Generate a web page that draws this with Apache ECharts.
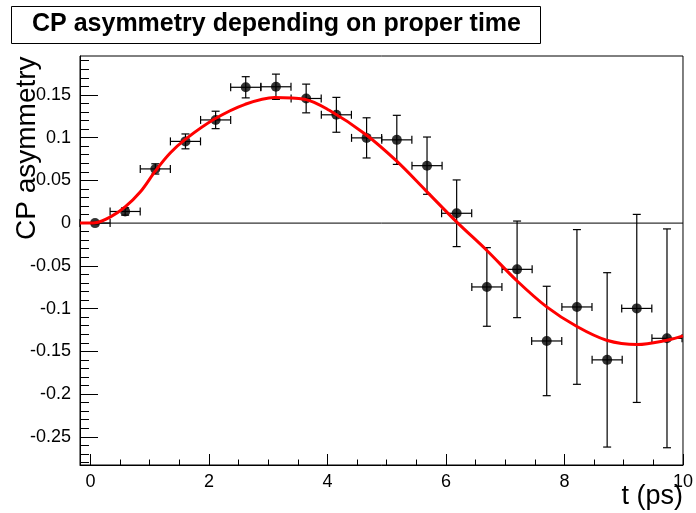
<!DOCTYPE html>
<html>
<head>
<meta charset="utf-8">
<script src="https://cdn.jsdelivr.net/npm/echarts@6/dist/echarts.min.js"></script>
<style>
html,body{margin:0;padding:0;background:#fff;}
#chart{width:696px;height:513px;}
</style>
</head>
<body>
<div id="chart"></div>
<script>
// ---- data ----
const tValues = [0.077, 0.585, 1.094, 1.603, 2.112, 2.620, 3.130, 3.640, 4.150, 4.660,
                 5.170, 5.680, 6.180, 6.690, 7.200, 7.700, 8.210, 8.720, 9.220, 9.730];
const asymValues = [0.000, 0.0136, 0.0634, 0.0956, 0.1207, 0.1589, 0.1595, 0.1458, 0.1267, 0.0997,
                    0.0974, 0.0672, 0.0115, -0.0747, -0.0541, -0.1379, -0.0981, -0.1600, -0.0998, -0.1348];
const tErrors = [0.254, 0.254, 0.254, 0.254, 0.254, 0.254, 0.254, 0.254, 0.254, 0.254,
                 0.254, 0.254, 0.254, 0.254, 0.254, 0.254, 0.254, 0.254, 0.254, 0.254];
const asymErrors = [0.001, 0.0043, 0.0060, 0.0087, 0.0102, 0.0124, 0.0148, 0.0168, 0.0204, 0.0235,
                    0.0287, 0.0335, 0.0390, 0.0460, 0.0565, 0.0640, 0.0905, 0.1020, 0.1100, 0.1280];
// fitted curve
const fitT = [-0.177, 0.0, 0.08, 0.33, 0.58, 0.835, 1.10, 1.345, 1.60, 2.10, 2.61, 3.11, 3.61, 4.03,
              4.64, 5.16, 5.66, 6.17, 6.69, 7.19, 7.70, 8.21, 8.71, 9.23, 9.73, 10.0];
const fitA = [0.0, 0.0, 0.0003, 0.007, 0.0187, 0.036, 0.0614, 0.082, 0.098, 0.122, 0.139, 0.147, 0.145, 0.132,
              0.104, 0.073, 0.038, 0.002, -0.032, -0.067, -0.098, -0.121, -0.137, -0.142, -0.137, -0.132];
// axis ticks / labels
const xTickValues = [0, 2, 4, 6, 8, 10];
const xTickLabels = ['0', '2', '4', '6', '8', '10'];
const yTickValues = [-0.25, -0.2, -0.15, -0.1, -0.05, 0, 0.05, 0.1, 0.15];
const yTickLabels = ['-0.25', '-0.2', '-0.15', '-0.1', '-0.05', '0', '0.05', '0.1', '0.15'];
const chartTitle = 'CP asymmetry depending on proper time';
const xTitle = 't (ps)';
const yTitle = 'CP asymmetry';

// ---- build ----
const X_MIN = -0.177, X_MAX = 10;
const Y_MIN = -0.283, Y_MAX = 0.1955;
const xMinor = [];
for (let i = 1; i <= 19; i++) { const v = i * 0.5; if (i % 4 !== 0) xMinor.push(v); }
const yMinor = [];
for (let i = -28; i <= 19; i++) { if (i % 5 !== 0) yMinor.push(i / 100); }

const FONT = '"Liberation Sans", Arial, Helvetica, sans-serif';
const pts = tValues.map((t, i) => [t, asymValues[i]]);
const errData = tValues.map((t, i) => [t, asymValues[i], tErrors[i], asymErrors[i]]);
const fitData = fitT.map((t, i) => [t, fitA[i]]);

function fmtLookup(values, labels) {
  return function (v) {
    for (let i = 0; i < values.length; i++) if (Math.abs(values[i] - v) < 1e-9) return labels[i];
    return '';
  };
}

const chart = echarts.init(document.getElementById('chart'), null, {renderer: 'canvas'});
const CAP = 4;
const option = {
  animation: false,
  backgroundColor: '#ffffff',
  textStyle: {fontFamily: FONT},
  grid: {left: 80, right: 12, top: 56, bottom: 48, show: true, borderColor: '#000', borderWidth: 1, backgroundColor: 'transparent'},
  xAxis: [
    {type: 'value', min: X_MIN, max: X_MAX, position: 'bottom',
     axisLine: {show: true, onZero: false, lineStyle: {color: '#000', width: 1}},
     axisTick: {show: true, inside: true, length: 11, lineStyle: {color: '#000'}, customValues: xTickValues},
     axisLabel: {show: true, customValues: xTickValues, formatter: fmtLookup(xTickValues, xTickLabels),
                 color: '#000', fontSize: 18, fontFamily: FONT, margin: 8},
     splitLine: {show: false}},
    {type: 'value', min: X_MIN, max: X_MAX, position: 'bottom',
     axisLine: {show: false, onZero: false},
     axisTick: {show: true, inside: true, length: 5.5, lineStyle: {color: '#000'}, customValues: xMinor},
     axisLabel: {show: false}, splitLine: {show: false}}
  ],
  yAxis: [
    {type: 'value', min: Y_MIN, max: Y_MAX, position: 'left',
     axisLine: {show: true, onZero: false, lineStyle: {color: '#000', width: 1}},
     axisTick: {show: true, inside: true, length: 18, lineStyle: {color: '#000'}, customValues: yTickValues},
     axisLabel: {show: true, customValues: yTickValues, formatter: fmtLookup(yTickValues, yTickLabels),
                 color: '#000', fontSize: 18, fontFamily: FONT, margin: 9},
     splitLine: {show: false}},
    {type: 'value', min: Y_MIN, max: Y_MAX, position: 'left',
     axisLine: {show: false, onZero: false},
     axisTick: {show: true, inside: true, length: 9, lineStyle: {color: '#000'}, customValues: yMinor},
     axisLabel: {show: false}, splitLine: {show: false}}
  ],
  series: [
    {type: 'line', xAxisIndex: 0, yAxisIndex: 0, data: [[X_MIN, 0], [X_MAX, 0]], symbol: 'none',
     lineStyle: {color: '#000', width: 1}, silent: true, z: 1},
    {type: 'custom', xAxisIndex: 0, yAxisIndex: 0, data: errData, z: 2,
     renderItem: function (params, api) {
       const x = api.value(0), y = api.value(1), xe = api.value(2), ye = api.value(3);
       const l = api.coord([x - xe, y]), r = api.coord([x + xe, y]);
       const t = api.coord([x, y + ye]), b = api.coord([x, y - ye]);
       const st = {stroke: '#000', lineWidth: 1.2};
       const seg = (x1, y1, x2, y2) => ({type: 'line', shape: {x1, y1, x2, y2}, style: st});
       return {type: 'group', children: [
         seg(l[0], l[1], r[0], r[1]),
         seg(t[0], t[1], b[0], b[1]),
         seg(l[0], l[1] - CAP, l[0], l[1] + CAP),
         seg(r[0], r[1] - CAP, r[0], r[1] + CAP),
         seg(t[0] - CAP, t[1], t[0] + CAP, t[1]),
         seg(b[0] - CAP, b[1], b[0] + CAP, b[1])
       ]};
     }},
    {type: 'scatter', xAxisIndex: 0, yAxisIndex: 0, data: pts, symbol: 'circle', symbolSize: 10,
     itemStyle: {color: '#000'}, z: 3},
    {type: 'line', xAxisIndex: 0, yAxisIndex: 0, data: fitData, symbol: 'none', smooth: 0.35,
     lineStyle: {color: '#ff0000', width: 3}, z: 4, silent: true}
  ],
  graphic: [
    {type: 'rect', shape: {x: 11.5, y: 6.5, width: 529, height: 37}, style: {fill: '#fff', stroke: '#000', lineWidth: 1}, z: 10},
    {type: 'text', x: 32, y: 24.5, z: 11,
     style: {text: chartTitle, fontFamily: FONT, fontWeight: 'bold', fontSize: 25, fill: '#000', textAlign: 'left', textVerticalAlign: 'middle'}},
    {type: 'text', x: 683, y: 497, z: 11,
     style: {text: xTitle, fontFamily: FONT, fontSize: 27, fill: '#000', textAlign: 'right', textVerticalAlign: 'middle'}},
    {type: 'text', x: 27, y: 240, rotation: Math.PI / 2, z: 11,
     style: {text: yTitle, fontFamily: FONT, fontSize: 28, fill: '#000', textAlign: 'left', textVerticalAlign: 'middle'}}
  ]
};
chart.setOption(option);
</script>
</body>
</html>
